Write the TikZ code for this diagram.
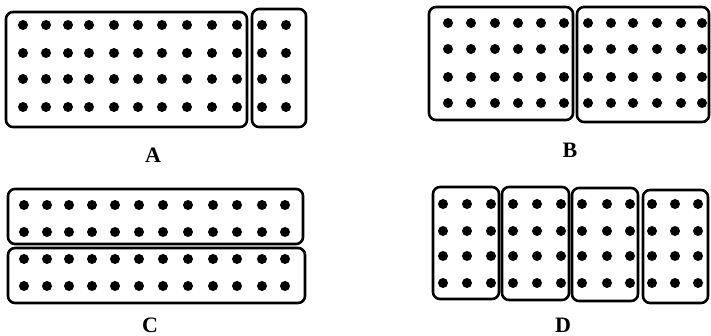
\documentclass[tikz,border=0pt]{standalone}
\usepackage{fontspec}
\setmainfont{Liberation Serif}
\begin{document}
\begin{tikzpicture}[x=1pt,y=-1pt,
  grp/.style={line width=2.6pt,rounded corners=7pt},
  dot/.style={fill=black},
  lbl/.style={font=\fontsize{22}{22}\selectfont\bfseries}]
\useasboundingbox (0,0) rectangle (711,336);
% Panel A
\draw[grp] (6,12) rectangle (247,127);
\draw[grp] (252,9) rectangle (306,127);
\foreach \x in {23,46,68,89,114,138,162,187,212,237,262,286}
  \foreach \y in {25,53,79,107} \fill[dot] (\x,\y) circle (5);
\node[lbl] (la) at (153,155) {A};
% Panel B
\draw[grp] (429,7) rectangle (573,120);
\draw[grp] (577,7) rectangle (709,122);
\foreach \x in {448,471,495,518,541,564,588,611,633,657,681,702}
  \foreach \y in {23,49,77,103} \fill[dot] (\x,\y) circle (5);
\node[lbl] (lb) at (570,150) {B};
% Panel C
\draw[grp] (8,189) rectangle (303,244);
\draw[grp] (8,248) rectangle (305,303);
\foreach \x in {24,47,69,92,115,139,163,188,213,237,262,285}
  \foreach \y in {205,232,259,286} \fill[dot] (\x,\y) circle (5);
\node[lbl] (lc) at (150,325) {C};
% Panel D
\draw[grp] (433,187) rectangle (499,299);
\draw[grp] (502,187) rectangle (569,300);
\draw[grp] (572,188) rectangle (638,301);
\draw[grp] (643,190) rectangle (708,303);
\foreach \x in {443,467,491,513,537,561,582,607,630,652,675,698}
  \foreach \y in {204,231,256,283} \fill[dot] (\x,\y) circle (5);
\node[lbl] (ld) at (563,325) {D};
\end{tikzpicture}
\end{document}
